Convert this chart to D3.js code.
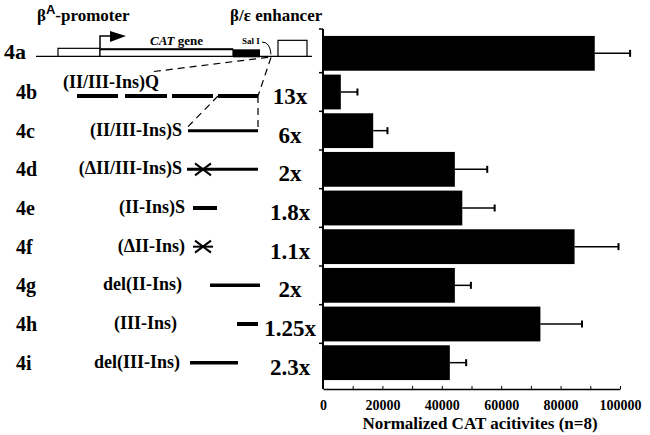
<!DOCTYPE html>
<html>
<head>
<meta charset="utf-8">
<script src="https://cdn.jsdelivr.net/npm/d3@7/dist/d3.min.js"></script>
<style>
  body { margin: 0; background: #fff; }
  svg { display: block; font-family: "Liberation Serif", "Times New Roman", serif; font-weight: bold; }
</style>
</head>
<body>
<svg id="chart" width="650" height="435"></svg>
<script>
const constructs = ["4a", "4b", "4c", "4d", "4e", "4f", "4g", "4h", "4i"];
const insulators = ["", "(II/III-Ins)Q", "(II/III-Ins)S", "(\u0394II/III-Ins)S", "(II-Ins)S",
                    "(\u0394II-Ins)", "del(II-Ins)", "(III-Ins)", "del(III-Ins)"];
const foldLabels = ["", "13x", "6x", "2x", "1.8x", "1.1x", "2x", "1.25x", "2.3x"];
const activity = [91500, 6000, 16900, 44400, 46900, 84700, 44400, 73200, 42700];
const errors = [11900, 5600, 4800, 10900, 10900, 14800, 5400, 14000, 5500];
const xTicks = [0, 10000, 20000, 30000, 40000, 50000, 60000, 70000, 80000, 90000, 100000];

const svg = d3.select("#chart");

const x = d3.scaleLinear().domain([0, 100000]).range([323, 620]);
const y = d3.scaleBand().domain(constructs).range([34, 382]).paddingInner(0.1).paddingOuter(0.05);
const mid = d => y(d) + y.bandwidth() / 2;

// ---- bars ----
svg.append("g").selectAll("rect")
  .data(constructs)
  .enter().append("rect")
  .attr("x", x(0))
  .attr("y", d => y(d))
  .attr("width", (d, i) => x(activity[i]) - x(0))
  .attr("height", y.bandwidth())
  .style("fill", "#000");

// error bars
const err = svg.append("g").style("stroke", "#000").style("stroke-width", 1.5);
constructs.forEach((d, i) => {
  err.append("line")
    .attr("x1", x(activity[i])).attr("x2", x(activity[i] + errors[i]))
    .attr("y1", mid(d)).attr("y2", mid(d));
  err.append("line")
    .attr("x1", x(activity[i] + errors[i])).attr("x2", x(activity[i] + errors[i]))
    .attr("y1", mid(d) - 3.5).attr("y2", mid(d) + 3.5)
    .style("stroke-width", 2);
});

// ---- axes ----
const xAxis = d3.axisBottom(x)
  .tickValues(xTicks)
  .tickSizeInner(-3)
  .tickSizeOuter(0)
  .tickPadding(11)
  .tickFormat(d => d % 20000 === 0 ? d : "");
const gx = svg.append("g").attr("transform", "translate(0,389)").call(xAxis);
gx.select(".domain").style("stroke-width", 1.5);
gx.selectAll("text").style("font-family", "Liberation Serif, serif")
  .style("font-weight", "bold").style("font-size", "14px").style("fill", "#000");

// y axis: plain line with ticks between rows
svg.append("line").attr("x1", 323).attr("x2", 323).attr("y1", 29).attr("y2", 389)
  .style("stroke", "#000").style("stroke-width", 2);
const bounds = [29].concat(constructs.slice(1).map(d => y(d) - y.step() * 0.05));
svg.append("g").selectAll("line")
  .data(bounds)
  .enter().append("line")
  .attr("x1", 319).attr("x2", 323)
  .attr("y1", d => d).attr("y2", d => d)
  .style("stroke", "#000").style("stroke-width", 1.5);

svg.append("text")
  .attr("x", 480).attr("y", 429)
  .attr("text-anchor", "middle")
  .style("font-size", "17px")
  .text("Normalized CAT acitivites (n=8)");

// ---- left panel: construct diagram ----
// header
const head = svg.append("text").attr("x", 37).attr("y", 21).style("font-size", "17px");
head.append("tspan").text("\u03B2");
head.append("tspan").attr("dy", -7).style("font-size", "13px").style("font-family", "Liberation Sans, sans-serif").text("A");
head.append("tspan").attr("dy", 7).text("-promoter");
svg.append("text").attr("x", 230).attr("y", 21).style("font-size", "17px").text("\u03B2/\u03B5 enhancer");

// row labels
svg.append("g").selectAll("text")
  .data(constructs)
  .enter().append("text")
  .attr("x", (d, i) => i === 0 ? 4 : 16)
  .attr("y", (d, i) => mid(d) + (i === 0 ? 6 : 7))
  .style("font-size", (d, i) => i === 0 ? "22px" : "20px")
  .text(d => d);

// fold-change labels
svg.append("g").selectAll("text")
  .data(constructs.slice(1))
  .enter().append("text")
  .attr("x", 290)
  .attr("y", d => mid(d) + 12)
  .attr("text-anchor", "middle")
  .style("font-size", "23px")
  .text((d, i) => foldLabels[i + 1]);

// 4a plasmid map
const ya = mid("4a") + 3;
const map = svg.append("g").style("stroke", "#000");
map.append("line").attr("x1", 36).attr("x2", 312).attr("y1", ya).attr("y2", ya).style("stroke-width", 1.2);
map.append("rect").attr("x", 58).attr("y", ya - 8).attr("width", 42).attr("height", 8)
  .style("fill", "#fff").style("stroke-width", 1.2);
map.append("rect").attr("x", 100).attr("y", ya - 7).attr("width", 133).attr("height", 7)
  .style("fill", "#fff").style("stroke-width", 1.2);
map.append("line").attr("x1", 100).attr("x2", 233).attr("y1", ya - 7).attr("y2", ya - 7).style("stroke-width", 2);
map.append("rect").attr("x", 233).attr("y", ya - 7).attr("width", 27).attr("height", 8)
  .style("fill", "#000").style("stroke", "none");
map.append("rect").attr("x", 278).attr("y", ya - 16).attr("width", 29).attr("height", 16)
  .style("fill", "#fff").style("stroke-width", 1.2);
// promoter arrow
map.append("path").attr("d", `M100,${ya - 8} V36 H112`).style("fill", "none").style("stroke-width", 1.5);
map.append("path").attr("d", "M110,31 L126,36 L110,42 Z").style("fill", "#000").style("stroke", "none");
// Sal I hook
map.append("path").attr("d", `M262,42 Q270,42 271,${ya - 2}`).style("fill", "none").style("stroke-width", 1);

const cat = svg.append("text").attr("x", 150).attr("y", 45).style("font-size", "13px");
cat.append("tspan").style("font-style", "italic").text("CAT");
cat.append("tspan").text(" gene");
svg.append("text").attr("x", 242).attr("y", 44).style("font-size", "9px").text("Sal I");

// insulator fragments: segments, line width, optional cross position
const yb = mid("4b") + 4;
const frags = {
  "4b": { segs: [[77, 118], [125, 167], [172, 213], [218, 258]], w: 4 },
  "4c": { segs: [[188, 258]], w: 3 },
  "4d": { segs: [[187, 258]], w: 3, cross: 203 },
  "4e": { segs: [[193, 217]], w: 4 },
  "4f": { segs: [[193, 213]], w: 2, cross: 203 },
  "4g": { segs: [[210, 260]], w: 3.5 },
  "4h": { segs: [[237, 258]], w: 4 },
  "4i": { segs: [[190, 238]], w: 3.5 }
};
const labelEnd = [0, 63, 182, 182, 185, 185, 182, 177, 180];

const fr = svg.append("g").style("stroke", "#000");
constructs.slice(1).forEach((d, k) => {
  const f = frags[d];
  const yy = d === "4b" ? yb : mid(d);
  f.segs.forEach(s => {
    fr.append("line").attr("x1", s[0]).attr("x2", s[1]).attr("y1", yy).attr("y2", yy)
      .style("stroke-width", f.w);
  });
  if (f.cross) {
    fr.append("path")
      .attr("d", `M${f.cross - 8},${yy - 6} L${f.cross + 8},${yy + 6} M${f.cross - 8},${yy + 6} L${f.cross + 8},${yy - 6}`)
      .style("stroke-width", 2);
  }
  const i = k + 1;
  svg.append("text")
    .attr("x", labelEnd[i])
    .attr("y", i === 1 ? yb - 8 : mid(d) + 5)
    .attr("text-anchor", i === 1 ? "start" : "end")
    .style("font-size", "18px")
    .text(insulators[i]);
});

// dashed guide lines from the Sal I fragment
const dash = svg.append("g").style("stroke", "#000").style("stroke-width", 1.2)
  .style("stroke-dasharray", "7,5").style("fill", "none");
dash.append("line").attr("x1", 268).attr("y1", ya + 1).attr("x2", 150).attr("y2", 72);
dash.append("line").attr("x1", 271).attr("y1", ya + 1).attr("x2", 258).attr("y2", yb);
dash.append("line").attr("x1", 258).attr("y1", yb).attr("x2", 258).attr("y2", mid("4c"));
dash.append("line").attr("x1", 218).attr("y1", yb).attr("x2", 188).attr("y2", mid("4c") - 4);
</script>
</body>
</html>
